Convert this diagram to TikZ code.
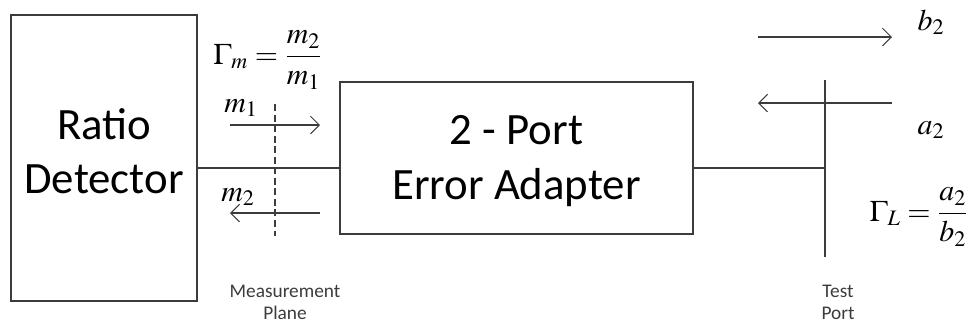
\documentclass[tikz,border=0pt]{standalone}
\usepackage{mathptmx}
\usepackage{fontspec}
\setmainfont{Carlito}
\usetikzlibrary{arrows.meta}
\definecolor{ln}{HTML}{3C3C3C}
\tikzset{
  blk/.style={draw=ln, line width=0.7pt, inner sep=0pt},
  blktxt/.style={align=center, inner sep=0pt, font=\fontsize{25.5}{31}\selectfont},
  wave/.style={draw=ln, line width=0.6pt, -{Straight Barb[length=5pt,width=10pt]}},
  wire/.style={draw=ln, line width=0.7pt},
  lbl/.style={font=\fontsize{11}{12.5}\selectfont, align=center, text=ln},
  sym/.style={font=\fontsize{17}{19}\selectfont},
}
\begin{document}
\begin{tikzpicture}[x=0.02cm,y=-0.02cm]
    \useasboundingbox (0,0) rectangle (968,326);
    % blocks
    \node[blk, minimum width=3.72cm, minimum height=5.72cm] (det) at (104,158) {};
    \node[blktxt] (dettxt) at (104,151) {Ratio\\Detector};
    \node[blk, minimum width=7.06cm, minimum height=3.04cm] (adp) at (516.5,158) {};
    \node[blktxt] (adptxt) at (516.5,161) {2 - Port\\Error Adapter};

    \coordinate (tp) at (825,168);
    \coordinate (tptop) at (825,80);
    \coordinate (tpbot) at (825,257);
    \coordinate (mptop) at (275,104);
    \coordinate (mpbot) at (275,236);

    \coordinate (m1s) at (230,125);
    \coordinate (m1e) at (320,125);
    \coordinate (m2s) at (320,213);
    \coordinate (m2e) at (230,213);
    \coordinate (b2s) at (758,37);
    \coordinate (b2e) at (892,37);
    \coordinate (a2s) at (892,103);
    \coordinate (a2e) at (758,103);

    % labels
    \node[sym] (gm) at (268,60) {$\displaystyle\Gamma_m=\frac{m_2}{m_1}$};
    \node[sym] (m1) at (241,108) {$m_1$};
    \node[sym] (m2) at (238,197) {$m_2$};
    \node[sym] (b2) at (931,22) {$b_2$};
    \node[sym] (a2) at (931,130) {$a_2$};
    \node[sym] (gl) at (919,217) {$\displaystyle\Gamma_L=\frac{a_2}{b_2}$};
    \node[lbl] (mp) at (285,302) {Measurement\\Plane};
    \node[lbl] (tpl) at (838,302) {Test\\Port};

    % wires
    \draw[wire] (det.east |- tp) -- (adp.west |- tp);
    \draw[wire] (adp.east |- tp) -- (tp);
    \draw[wire] (tptop) -- (tpbot);
    \draw[wire, dashed, dash pattern=on 4pt off 2pt] (mptop) -- (mpbot);

    % waves
    \draw[wave] (m1s) -- (m1e);
    \draw[wave] (m2s) -- (m2e);
    \draw[wave] (b2s) -- (b2e);
    \draw[wave] (a2s) -- (a2e);
\end{tikzpicture}
\end{document}
